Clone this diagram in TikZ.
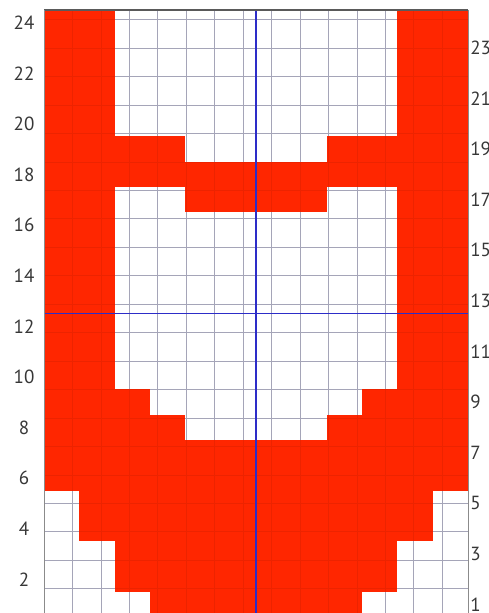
\documentclass[tikz,border=0pt]{standalone}
\usepackage{fontspec}
\setmainfont{PT Sans}
\definecolor{cellred}{RGB}{255,38,0}
\definecolor{gridc}{RGB}{178,178,198}
\definecolor{axisblue}{RGB}{45,45,200}
\definecolor{labelc}{RGB}{55,55,55}
\definecolor{framec}{RGB}{90,90,90}
\tikzset{
  redcell/.style={fill=cellred},
  gridline/.style={draw=gridc,line width=0.8pt},
  faintgrid/.style={draw=black,opacity=0.07,line width=0.8pt},
  axisline/.style={draw=axisblue,line width=1.2pt},
  rowlabel/.style={text=labelc,font=\fontsize{19}{20}\selectfont,inner sep=0pt}
}
\begin{document}
\begin{tikzpicture}[x=1pt,y=1pt]
\useasboundingbox (0,0) rectangle (488,613);
\clip (0,0) rectangle (488,613);
\begin{scope}[xshift=44pt,yshift=-4.2pt,x=35.333pt,y=25.3pt]
  \fill[white] (0,0) rectangle (12,24);
  \draw[gridline] (0,0) grid (12,24);
  % red cells
  \fill[redcell] (0,5) rectangle (1,24);
  \fill[redcell] (1,3) rectangle (2,24);
  \fill[redcell] (2,1) rectangle (3,9);
  \fill[redcell] (2,17) rectangle (3,19);
  \fill[redcell] (3,0) rectangle (4,8);
  \fill[redcell] (3,17) rectangle (4,19);
  \fill[redcell] (4,0) rectangle (8,7);
  \fill[redcell] (4,16) rectangle (8,18);
  \fill[redcell] (8,0) rectangle (9,8);
  \fill[redcell] (8,17) rectangle (9,19);
  \fill[redcell] (9,1) rectangle (10,9);
  \fill[redcell] (9,17) rectangle (10,19);
  \fill[redcell] (10,3) rectangle (11,24);
  \fill[redcell] (11,5) rectangle (12,24);
  \draw[faintgrid] (0,0) grid (12,24);
  % axes
  \coordinate (vtop) at (6,24);
  \coordinate (vbot) at (6,0);
  \coordinate (hleft) at (0,12);
  \coordinate (hright) at (12,12);
  \draw[axisline] (vbot) -- (vtop);
  \draw[axisline] (hleft) -- (hright);
  % frame
  \coordinate (tl) at (0,24);
  \coordinate (tr) at (12,24);
  \coordinate (bl) at (0,0);
  \coordinate (br) at (12,0);
  \draw[framec,line width=1.2pt] (tl) -- (tr);
  \draw[framec!70,line width=1pt] (bl) -- (tl);
  \draw[framec!70,line width=1pt] (br) -- (tr);
  % labels
  \foreach \r in {2,4,...,24} {
    \node[rowlabel] (L\r) at (-0.566,\r-0.5) {\r};
  }
  \foreach \r in {1,3,...,23} {
    \node[rowlabel,anchor=west] (R\r) at (12.06,\r-0.5) {\r};
  }
\end{scope}
\end{tikzpicture}
\end{document}
